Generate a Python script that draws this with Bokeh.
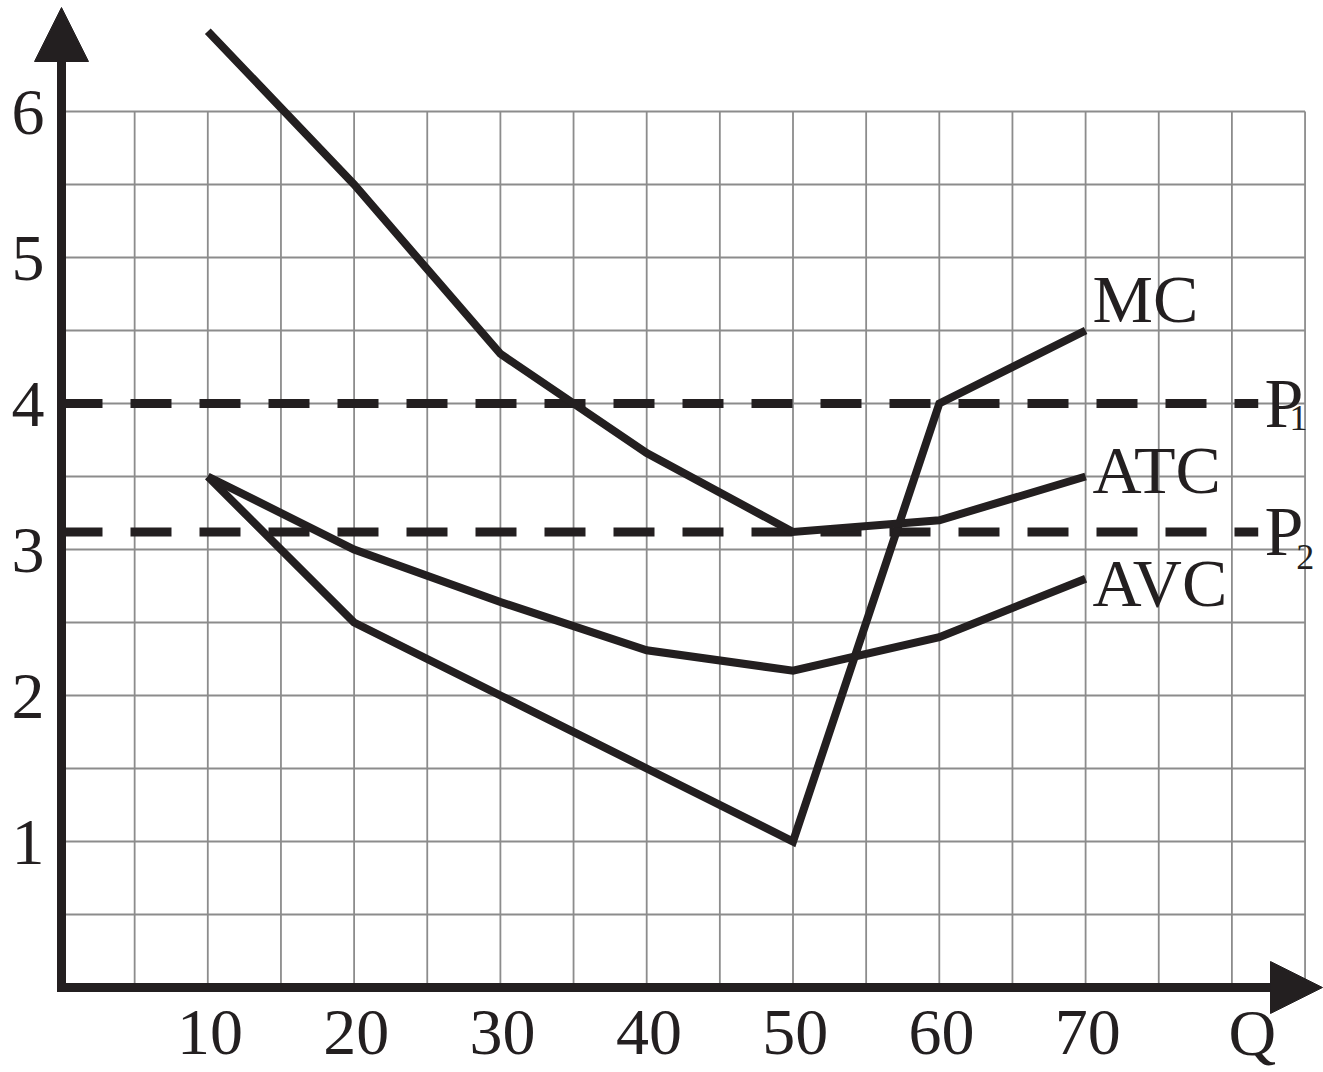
from bokeh.plotting import figure
from bokeh.models import Range1d, Arrow, NormalHead
from bokeh.core.properties import value
from bokeh.embed import file_html
from bokeh.resources import INLINE
import numpy as np

# ---------------- data ----------------
q = [10, 20, 30, 40, 50, 60, 70]
mc = [3.5, 2.5, 2.0, 1.5, 1.0, 4.0, 4.5]
atc = [6.55, 5.5, 4.34, 3.66, 3.12, 3.2, 3.5]
avc = [3.5, 3.0, 2.64, 2.31, 2.17, 2.4, 2.8]
p1 = 4.0
p2 = 3.12

y_ticks = [1, 2, 3, 4, 5, 6]
y_tick_labels = ["1", "2", "3", "4", "5", "6"]
x_ticks = [10, 20, 30, 40, 50, 60, 70]
x_tick_labels = ["10", "20", "30", "40", "50", "60", "70"]
q_label = "Q"
curve_names = ["MC", "ATC", "AVC"]
price_main = ["P", "P"]
price_subs = ["1", "2"]

# ---------------- layout ----------------
W, H = 1323, 1072
X0_PX, PX_X = 61.0, 14.63     # canvas x of Q=0, pixels per unit
Y0_PX, PX_Y = 987.0, 146.0    # canvas y of price=0, pixels per unit
INK = "#231f20"
GRID = "#8c8c8c"
FONT = value("Liberation Serif")


def dy(px):
    """canvas y pixel -> price units"""
    return (Y0_PX - px) / PX_Y


x_start = -X0_PX / PX_X
x_end = (W - X0_PX) / PX_X
y_end = Y0_PX / PX_Y
y_start = -(H - Y0_PX) / PX_Y

p = figure(width=W, height=H, output_backend="svg", toolbar_location=None,
           x_range=Range1d(x_start, x_end), y_range=Range1d(y_start, y_end),
           x_axis_location=None, y_axis_location=None, min_border=0,
           tools="")
p.outline_line_color = None
p.xgrid.visible = False
p.ygrid.visible = False

# grid (every 5 on Q, every 0.5 on price, up to 85 x 6)
gx = np.arange(5, 85.01, 5)
gy = np.arange(0.5, 6.01, 0.5)
p.segment(x0=gx, y0=np.zeros_like(gx), x1=gx, y1=np.full_like(gx, 6.0),
          line_color=GRID, line_width=1.8)
p.segment(x0=np.zeros_like(gy), y0=gy, x1=np.full_like(gy, 85.0), y1=gy,
          line_color=GRID, line_width=1.8)

# price lines
for pv in (p1, p2):
    p.line([0, 81.8], [pv, pv], line_color=INK, line_width=9, line_dash="41 28")

# cost curves
for ys in (mc, atc, avc):
    p.line(q, ys, line_color=INK, line_width=8, line_join="miter")

# axes with arrowheads
ax_w = 9
p.add_layout(Arrow(start=None, end=NormalHead(size=54, fill_color=INK, line_color=INK),
                   x_start=0, y_start=-(ax_w / 2) / PX_Y, x_end=0, y_end=dy(7),
                   line_color=INK, line_width=ax_w))
p.add_layout(Arrow(start=None, end=NormalHead(size=52, fill_color=INK, line_color=INK),
                   x_start=-(ax_w / 2) / PX_X, y_start=0, x_end=(W - 1 - X0_PX) / PX_X, y_end=0,
                   line_color=INK, line_width=ax_w))

# tick labels (all texts centred vertically on their point)
p.text(x=[-1.16] * len(y_ticks), y=[t - 0.01 for t in y_ticks], text=y_tick_labels,
       text_font=FONT, text_font_size="66px", text_align="right", text_baseline="middle",
       text_color=INK)
p.text(x=[t + 0.15 for t in x_ticks], y=[dy(1032)] * len(x_ticks), text=x_tick_labels,
       text_font=FONT, text_font_size="66px", text_align="center",
       text_baseline="middle", text_color=INK)
p.text(x=[81.4], y=[dy(1032)], text=[q_label], text_font=FONT, text_font_size="66px",
       text_align="center", text_baseline="middle", text_color=INK)

# curve labels
p.text(x=[70.47] * 3, y=[dy(298), dy(469), dy(582)], text=curve_names, text_font=FONT,
       text_font_size="68px", text_align="left", text_baseline="middle", text_color=INK)
p.text(x=[82.23, 82.23], y=[p1, p2], text=price_main, text_font=FONT,
       text_font_size="70px", text_align="left", text_baseline="middle", text_color=INK)
p.text(x=[83.94, 84.4], y=[dy(417), dy(556)], text=price_subs, text_font=FONT,
       text_font_size="36px", text_align="left", text_baseline="middle", text_color=INK)

open("out.html", "w").write(file_html(p, INLINE))
